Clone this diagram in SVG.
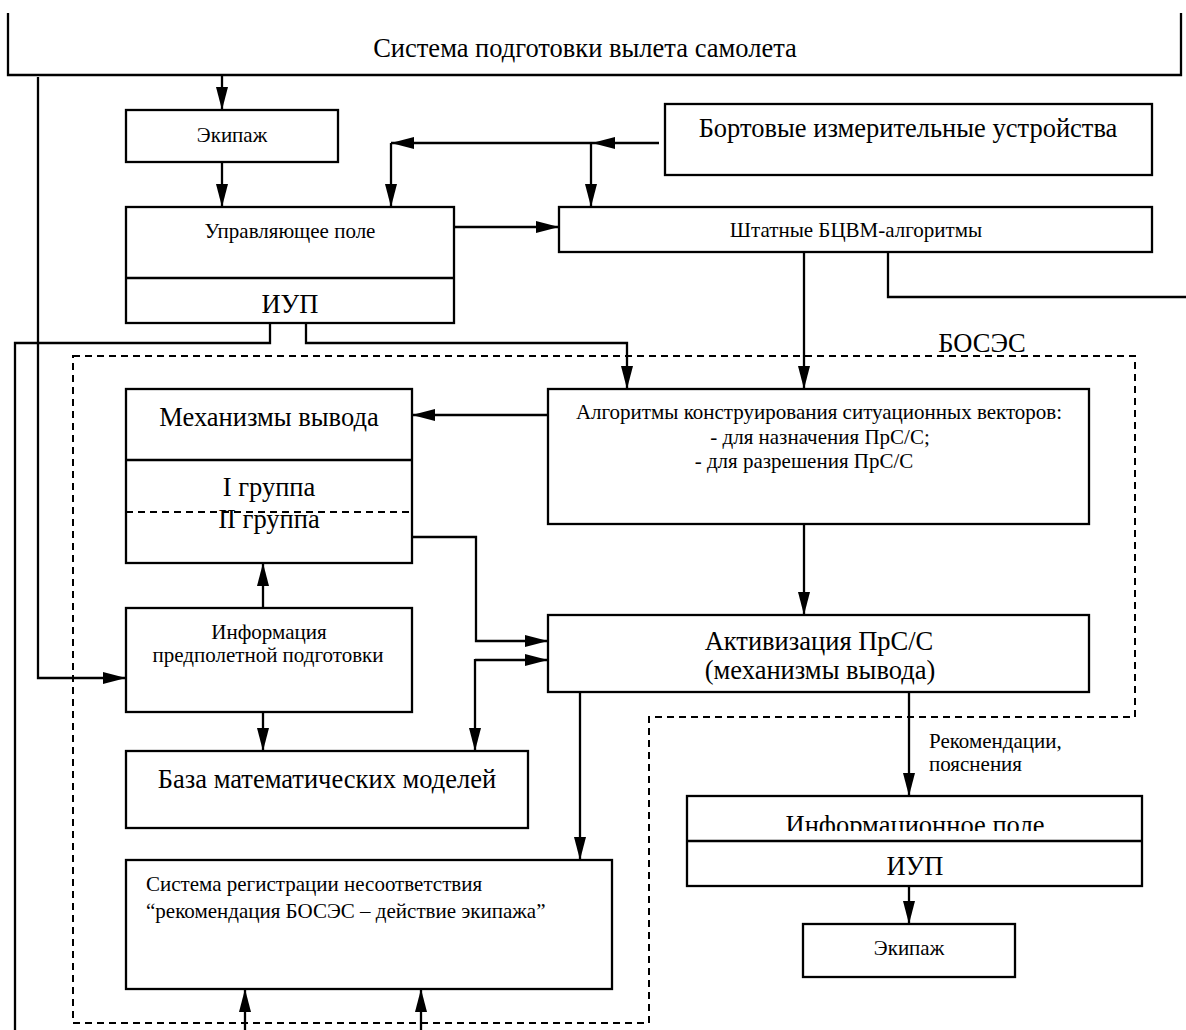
<svg xmlns="http://www.w3.org/2000/svg" width="1186" height="1030" viewBox="0 0 1186 1030">
<style>
.box{fill:none;stroke:#000;stroke-width:2.3}
.ln{fill:none;stroke:#000;stroke-width:2.3}
.dash{fill:none;stroke:#000;stroke-width:2;stroke-dasharray:7,5}
text{font-family:"Liberation Serif","Times New Roman",serif;fill:#000}
.s{font-size:21px}
.b{font-size:26.5px}
.c{text-anchor:middle}
</style>
<defs>
<marker id="ah" markerUnits="userSpaceOnUse" markerWidth="24" markerHeight="12" refX="23" refY="6" orient="auto">
<path d="M0,0 L23,6 L0,12 z" fill="#000"/>
</marker>
<clipPath id="clipInf"><rect x="687" y="796" width="455" height="35"/></clipPath>
</defs>
<rect width="1186" height="1030" fill="#fff"/>

<g id="boses">
<path class="dash" d="M73,356 H1135 V717 H649 V1023 H73 Z"/>
<text class="b c" x="982" y="352">БОСЭС</text>
</g>

<g id="sys">
<path class="ln" d="M8,13 V75 H1181 V13"/>
<text class="b c" x="585" y="57">Система подготовки вылета самолета</text>
</g>

<g id="crew1">
<rect class="box" x="126" y="110" width="212" height="52"/>
<text class="s c" x="232" y="142">Экипаж</text>
</g>

<g id="ctrl">
<rect class="box" x="126" y="207" width="328" height="116"/>
<line class="ln" x1="126" y1="278" x2="454" y2="278"/>
<text class="s c" x="290" y="238">Управляющее поле</text>
<text class="b c" x="290" y="313">ИУП</text>
</g>

<g id="sensors">
<rect class="box" x="665" y="104" width="487" height="71"/>
<text class="b c" x="908" y="137">Бортовые измерительные устройства</text>
</g>

<g id="std">
<rect class="box" x="559" y="207" width="593" height="45"/>
<text class="s c" x="856" y="237">Штатные БЦВМ-алгоритмы</text>
</g>

<g id="mech">
<rect class="box" x="126" y="389" width="286" height="174"/>
<line class="ln" x1="126" y1="460" x2="412" y2="460"/>
<line class="dash" x1="126" y1="512" x2="412" y2="512"/>
<text class="b c" x="269" y="426">Механизмы вывода</text>
<text class="b c" x="269" y="496">I группа</text>
<text class="b c" x="269" y="528">II группа</text>
</g>

<g id="alg">
<rect class="box" x="548" y="389" width="541" height="135"/>
<text class="s c" x="819" y="419">Алгоритмы конструирования ситуационных векторов:</text>
<text class="s c" x="820" y="444">- для назначения ПрС/С;</text>
<text class="s c" x="804" y="468">- для разрешения ПрС/С</text>
</g>

<g id="info">
<rect class="box" x="126" y="608" width="286" height="104"/>
<text class="s c" x="269" y="639">Информация</text>
<text class="s c" x="268" y="662">предполетной подготовки</text>
</g>

<g id="act">
<rect class="box" x="548" y="615" width="541" height="77"/>
<text class="b c" x="819" y="650">Активизация ПрС/С</text>
<text class="b c" x="820" y="679">(механизмы вывода)</text>
</g>

<g id="base">
<rect class="box" x="126" y="751" width="402" height="77"/>
<text class="b c" x="327" y="788">База математических моделей</text>
</g>

<g id="reg">
<rect class="box" x="126" y="860" width="486" height="129"/>
<text class="s" x="146" y="891">Система регистрации несоответствия</text>
<text class="s" x="146" y="918">“рекомендация БОСЭС – действие экипажа”</text>
</g>

<g id="infofield">
<rect class="box" x="687" y="796" width="455" height="90"/>
<line class="ln" x1="687" y1="841" x2="1142" y2="841"/>
<text class="b c" x="915" y="834" clip-path="url(#clipInf)">Информационное поле</text>
<text class="b c" x="915" y="875">ИУП</text>
</g>

<g id="crew2">
<rect class="box" x="803" y="924" width="212" height="53"/>
<text class="s c" x="909" y="955">Экипаж</text>
</g>

<g id="rec-label">
<text class="s" x="929" y="748">Рекомендации,</text>
<text class="s" x="929" y="771">пояснения</text>
</g>

<g id="connectors">
<path class="ln" d="M222,75 V110" marker-end="url(#ah)"/>
<path class="ln" d="M222,162 V207" marker-end="url(#ah)"/>
<path class="ln" d="M454,227 H559" marker-end="url(#ah)"/>
<path class="ln" d="M659,143 H592" marker-end="url(#ah)"/>
<path class="ln" d="M592,143 H391" marker-end="url(#ah)"/>
<path class="ln" d="M391,143 V207" marker-end="url(#ah)"/>
<path class="ln" d="M591,143 V207" marker-end="url(#ah)"/>
<path class="ln" d="M38,77 V678 H126" marker-end="url(#ah)"/>
<path class="ln" d="M270,323 V343 H15 V1030"/>
<path class="ln" d="M306,323 V343 H627 V389" marker-end="url(#ah)"/>
<path class="ln" d="M804,252 V389" marker-end="url(#ah)"/>
<path class="ln" d="M888,252 V297 H1186"/>
<path class="ln" d="M548,415 H412" marker-end="url(#ah)"/>
<path class="ln" d="M804,524 V615" marker-end="url(#ah)"/>
<path class="ln" d="M412,537 H476 V641 H548" marker-end="url(#ah)"/>
<path class="ln" d="M475,660 H548" marker-end="url(#ah)"/>
<path class="ln" d="M475,659 V751" marker-end="url(#ah)"/>
<path class="ln" d="M263,608 V563" marker-end="url(#ah)"/>
<path class="ln" d="M263,712 V751" marker-end="url(#ah)"/>
<path class="ln" d="M580,692 V860" marker-end="url(#ah)"/>
<path class="ln" d="M909,692 V796" marker-end="url(#ah)"/>
<path class="ln" d="M909,886 V924" marker-end="url(#ah)"/>
<path class="ln" d="M245,1030 V989" marker-end="url(#ah)"/>
<path class="ln" d="M421,1030 V989" marker-end="url(#ah)"/>
</g>
</svg>
